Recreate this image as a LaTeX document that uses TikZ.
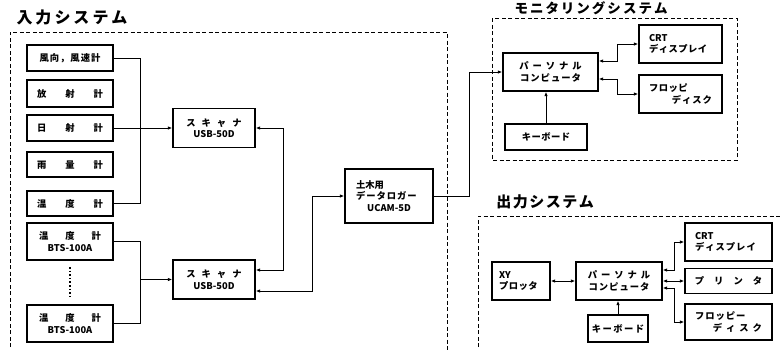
\documentclass[tikz,border=0pt]{standalone}
\usepackage{fontspec}
\setmainfont{Noto Sans CJK JP}
\usetikzlibrary{arrows.meta}
\makeatletter
\newcommand\jsp[2]{\begingroup\def\jsp@g{#1}\let\jsp@first\relax\@tfor\jsp@c:=#2\do{\jsp@first\jsp@c\gdef\jsp@first{\hspace{\jsp@g}}}\global\let\jsp@first\relax\endgroup}
\makeatother
\begin{document}
\begin{tikzpicture}[x=1pt,y=-1pt,
  box/.style={draw, line width=1.3pt, inner sep=1pt, align=center, font=\fontsize{9.3}{11.5}\selectfont\bfseries},
  ln/.style={line width=0.9pt},
  arr/.style={ln,-{Latex[length=4.5pt,width=3.5pt]}},
  biarr/.style={ln,{Latex[length=4.5pt,width=3.5pt]}-{Latex[length=4.5pt,width=3.5pt]}},
  grp/.style={line width=0.9pt, dash pattern=on 4pt off 2.5pt},
  ttl/.style={font=\fontsize{15}{16}\selectfont\bfseries}]
\useasboundingbox (0,0) rectangle (782,349);

% group frames
\draw[grp] (10,360) -- (10,32) -- (447,32) -- (447,360);
\draw[grp] (492,18) rectangle (737,160);
\draw[grp] (478,360) -- (478,216) -- (790,216);

% titles
\node[ttl, font=\fontsize{16}{17}\selectfont\bfseries] (t1) at (72,17) {\jsp{3pt}{入力システム}};
\node[ttl, font=\fontsize{13.5}{14}\selectfont\bfseries] (t2) at (591,8.5) {\jsp{2pt}{モニタリングシステム}};
\node[ttl] (t3) at (545,202) {\jsp{1.5pt}{出力システム}};

% input system
\node[box, minimum width=86pt, minimum height=26pt] (f1) at (70,58) {\jsp{1pt}{風向，風速計}};
\node[box, minimum width=86pt, minimum height=27pt] (f2) at (70,93.5) {\jsp{19pt}{放射計}};
\node[box, minimum width=86pt, minimum height=26pt] (f3) at (70,128) {\jsp{19pt}{日射計}};
\node[box, minimum width=86pt, minimum height=25pt] (f4) at (70,164.5) {\jsp{19pt}{雨量計}};
\node[box, minimum width=86pt, minimum height=25pt] (f5) at (70,203.5) {\jsp{19pt}{温度計}};
\node[box, minimum width=86pt, minimum height=37pt] (f6) at (70,241.5) {\jsp{17pt}{温度計}\\BTS-100A};
\node[box, minimum width=86pt, minimum height=37pt] (f7) at (70,323.5) {\jsp{17pt}{温度計}\\BTS-100A};
\draw[line width=1.4pt, dash pattern=on 1.6pt off 2pt] (70,267) -- (70,298);

\node[box, minimum width=82pt, minimum height=39pt] (s1) at (214,128) {\jsp{6pt}{スキャナ}\\USB-50D};
\node[box, minimum width=82pt, minimum height=39pt] (s2) at (214,279.5) {\jsp{6pt}{スキャナ}\\USB-50D};
\node[box, minimum width=88pt, minimum height=54pt] (lg) at (389,196)
  {\makebox[66pt][l]{土木用}\\\makebox[66pt][l]{\jsp{1pt}{データロガー}}\\UCAM-5D};

\coordinate (j1) at (140,203.5);
\coordinate (j2) at (140,323.5);
\coordinate (j3) at (140,279.5);
\draw[ln] (f1.east) -| (j1) -- (f5.east);
\draw[arr] (f3.east) -- (s1.west);
\draw[ln] (f6.east) -| (j2) -- (f7.east);
\draw[arr] (j3) -- (s2.west);
\draw[biarr] ([yshift=9.5pt]s2.east) -| (283,128) -- (s1.east);
\draw[biarr] ([yshift=-11.5pt]s2.east) -| (312,196) -- (lg.west);

% monitoring system
\node[box, minimum width=95pt, minimum height=38pt] (mpc) at (550.5,72) {\jsp{4pt}{パーソナル}\\\jsp{1pt}{コンピュータ}};
\node[box, minimum width=83pt, minimum height=38pt] (mcrt) at (680.5,44) {\makebox[63pt][l]{CRT}\\\makebox[63pt][l]{\jsp{0.5pt}{ディスプレイ}}};
\node[box, minimum width=83pt, minimum height=38pt] (mfd) at (680.5,94) {\makebox[63pt][l]{\jsp{0.5pt}{フロッピ}}\\\makebox[63pt][r]{\jsp{1pt}{ディスク}}};
\node[box, minimum width=82pt, minimum height=26pt] (mkb) at (546,137) {\jsp{0.5pt}{キーボード}};

\draw[arr] (lg.east) -| (469,72) -- (mpc.west);
\draw[biarr] ([yshift=11pt]mpc.east) -| (617,44) -- (mcrt.west);
\draw[biarr] ([yshift=-7pt]mpc.east) -| (617,94) -- (mfd.west);
\draw[arr] (mkb.north) -- (mkb.north |- mpc.south);

% output system
\node[box, minimum width=58pt, minimum height=38pt] (oxy) at (521,281) {\makebox[44pt][l]{XY}\\\makebox[44pt][l]{\jsp{0.5pt}{プロッタ}}};
\node[box, minimum width=86pt, minimum height=38pt] (opc) at (619,281) {\jsp{4pt}{パーソナル}\\\jsp{1pt}{コンピュータ}};
\node[box, minimum width=60pt, minimum height=27pt] (okb) at (618,328.5) {\jsp{1.5pt}{キーボード}};
\node[box, minimum width=87pt, minimum height=38pt] (ocrt) at (728.5,242) {\makebox[67pt][l]{CRT}\\\makebox[67pt][l]{\jsp{1pt}{ディスプレイ}}};
\node[box, minimum width=87pt, minimum height=25pt] (opr) at (728.5,281) {\jsp{10pt}{プリンタ}};
\node[box, minimum width=87pt, minimum height=36pt] (ofd) at (728.5,322) {\makebox[67pt][l]{\jsp{1pt}{フロッピー}}\\\makebox[67pt][r]{\jsp{4pt}{ディスク}}};

\draw[biarr] (oxy.east) -- (opc.west);
\draw[biarr] ([yshift=11pt]opc.east) -| (674,242) -- (ocrt.west);
\draw[biarr] (opc.east) -- (opr.west);
\draw[biarr] ([yshift=-7pt]opc.east) -| (674,322) -- (ofd.west);
\draw[arr] (okb.north) -- (okb.north |- opc.south);
\end{tikzpicture}
\end{document}
